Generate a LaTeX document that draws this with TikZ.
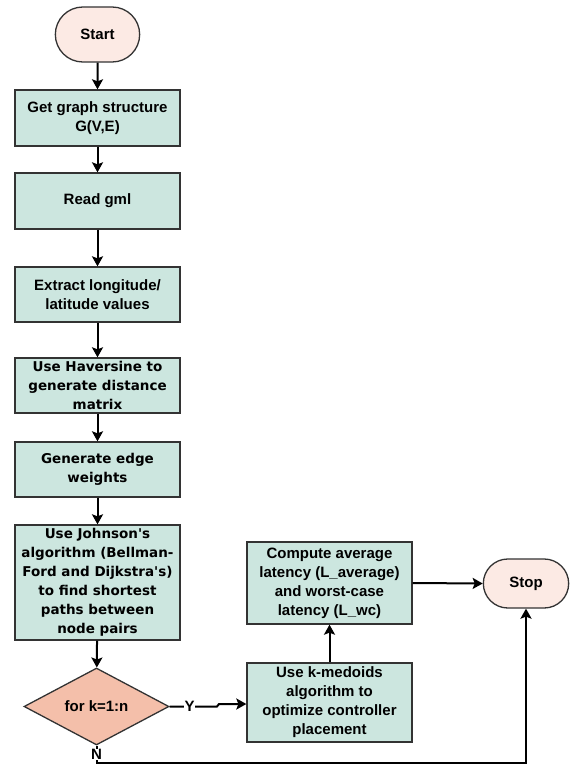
\documentclass[tikz,border=0pt]{standalone}
\usepackage{fontspec}
\setmainfont{Liberation Sans}
\newfontfamily\tahomafont{DejaVu Sans}
\usetikzlibrary{positioning}
\usetikzlibrary{shapes.geometric,shapes.misc,arrows.meta}
\definecolor{procFill}{RGB}{204,230,223}
\definecolor{termFill}{RGB}{252,234,228}
\definecolor{forkFill}{RGB}{244,191,170}
\tikzset{
    process/.style={
		draw=black!80, line width=1.3pt, fill=procFill,
		minimum width=165pt, inner sep=0.5pt, align=center,
		font=\fontsize{15}{19}\selectfont\bfseries
	}
}
\tikzset{
    tahomaText/.style={font=\tahomafont\fontsize{13.5}{19}\selectfont\bfseries}
}
\tikzset{
    terminal/.style={
		rounded rectangle, draw=black!80, line width=1.3pt, fill=termFill,
		font=\fontsize{15}{19}\selectfont\bfseries
	}
}
\tikzset{
    fork/.style={
		diamond, draw=black!80, line width=1.3pt, fill=forkFill, aspect=1.88,
		minimum width=145pt, minimum height=77pt, inner sep=0pt,
		font=\fontsize{15}{19}\selectfont\bfseries
	},
    flow/.style={line width=2pt, -{Stealth[length=10pt,width=11pt,inset=2pt]}},
    branch/.style={fill=white, inner sep=0.5pt, font=\fontsize{15}{19}\selectfont\bfseries}
}

\begin{document}
\begin{tikzpicture}[x=1pt,y=-1pt]
        \useasboundingbox (0,0) rectangle (577,765);
        \node[terminal, minimum width=91pt, minimum height=55pt] (start) at (97.5,34.5) {Start};
        \node[process, minimum height=56pt] (graph) at (97.5,118) {Get graph structure\\G(V,E)};
        \node[process, minimum height=56pt] (gml) at (97.5,201) {Read gml};
        \node[process, minimum height=55pt] (coords) at (97.5,294.5) {Extract longitude/\\latitude values};
        \node[process, tahomaText, minimum height=55pt] (haversine) at (97.5,385.5) {Use Haversine to\\generate distance\\matrix};
        \node[process, tahomaText, minimum height=55pt] (weights) at (97.5,469.5) {Generate edge\\weights};
        \node[process, tahomaText, minimum height=115pt] (johnson) at (97.5,582.5)
            {Use Johnson\textquotesingle s\\algorithm (Bellman-\\Ford and Dijkstra\textquotesingle s)\\to find shortest\\paths between\\node pairs};
        \node[fork] (loop) at (96.5,706.5) {for k=1:n};
        \node[process, minimum height=79pt] (kmedoids) at (329.5,702.5) {Use k-medoids\\algorithm to\\optimize controller\\placement};
        \node[process, minimum height=82pt] (latency) at (329.5,583) {Compute average\\latency (L\_average)\\and worst-case\\latency (L\_wc)};
        \node[terminal, minimum width=92pt, minimum height=49pt] (stop) at (526,583.5) {Stop};
        % main chain
        \draw[flow] (start) -- (graph);
        \draw[flow] (graph) -- (gml);
        \draw[flow] (gml) -- (coords);
        \draw[flow] (coords) -- (haversine);
        \draw[flow] (haversine) -- (weights);
        \draw[flow] (weights) -- (johnson);
        \draw[flow] (johnson) -- (loop);
        % loop branches
        \coordinate (jogA) at (217,706.5);
        \coordinate (jogB) at (219,704);
        \coordinate (exitN) at (96.5,763);
        \draw[flow] (loop.east) -- node[branch, pos=0.42]{Y} (jogA) -- (jogB) -- (jogB -| kmedoids.west);
        \draw[flow] (kmedoids) -- (latency);
        \draw[flow] (latency.east) -- (stop.west);
        \draw[flow] (loop.south) -- node[branch]{N} (exitN) -- (exitN -| stop.south) -- (stop.south);
      \end{tikzpicture}
\end{document}
